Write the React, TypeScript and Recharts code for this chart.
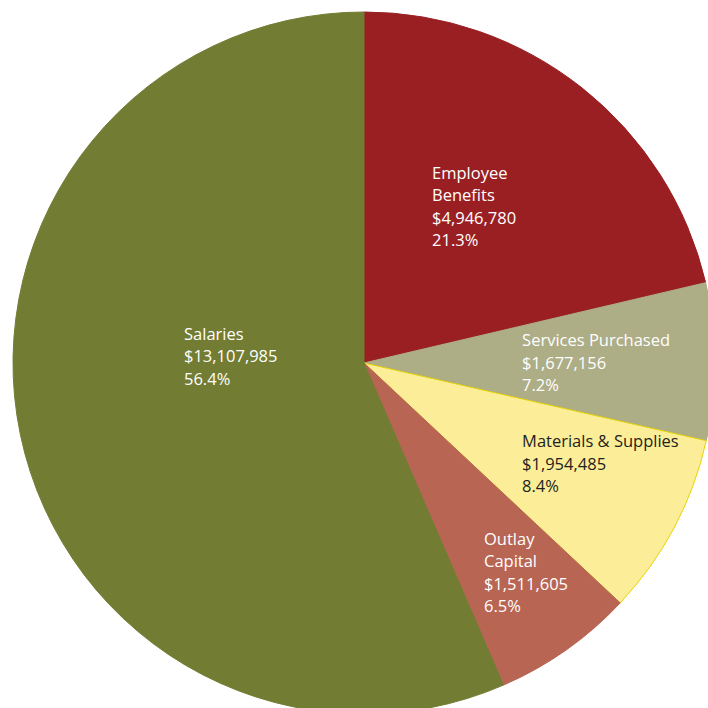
import React from "react";
import { PieChart, Pie, Cell } from "recharts";

const categories = ["Employee Benefits", "Services Purchased", "Materials & Supplies", "Outlay Capital", "Salaries"];
const labelLines = [["Employee", "Benefits"], ["Services Purchased"], ["Materials & Supplies"], ["Outlay", "Capital"], ["Salaries"]];
const amounts = [4946780, 1677156, 1954485, 1511605, 13107985];
const percents = ["21.3%", "7.2%", "8.4%", "6.5%", "56.4%"];

const fills = ["#9a1f23", "#adad86", "#fcee98", "#b86553", "#727c32"];
const strokes = ["#9a1f23", "#adad86", "#e8d400", "#b86553", "#727c32"];
const textColors = ["#ffffff", "#ffffff", "#231f20", "#ffffff", "#ffffff"];
// label anchor: angle clockwise from top (deg) and radius fraction
const labelAngle = [20.3, 83.9, 118, 146.6, 277.3];
const labelRadius = [0.559, 0.453, 0.51, 0.621, 0.517];

const data = categories.map((name, i) => ({ name, value: amounts[i] }));

const fmt = (v: number) => "$" + v.toLocaleString("en-US");

const renderLabel = (props: any) => {
  const { cx, cy, outerRadius, index } = props;
  const a = (labelAngle[index] * Math.PI) / 180;
  const r = labelRadius[index] * outerRadius;
  const x = cx + r * Math.sin(a);
  const y = cy - r * Math.cos(a);
  const lines = [...labelLines[index], fmt(amounts[index]), percents[index]];
  return (
    <text
      x={x}
      y={y}
      fill={textColors[index]}
      fontSize={16.5}
      fontFamily="'Open Sans', sans-serif"
      textAnchor="start"
    >
      {lines.map((l, k) => (
        <tspan key={k} x={x} dy={k === 0 ? 0 : 22.5}>
          {l}
        </tspan>
      ))}
    </text>
  );
};

export default function App() {
  return (
    <div style={{ position: "absolute", left: 0, top: 0, width: 708, height: 708, overflow: "hidden", background: "#fff" }}>
      <PieChart width={708} height={708} margin={{ top: 0, right: 0, bottom: 0, left: 0 }}>
        <Pie
          data={data}
          dataKey="value"
          nameKey="name"
          cx={364}
          cy={363}
          outerRadius={351}
          startAngle={90}
          endAngle={-270}
          label={renderLabel}
          labelLine={false}
          isAnimationActive={false}
        >
          {data.map((d, i) => (
            <Cell key={d.name} fill={fills[i]} stroke={strokes[i]} strokeWidth={1} />
          ))}
        </Pie>
      </PieChart>
    </div>
  );
}
